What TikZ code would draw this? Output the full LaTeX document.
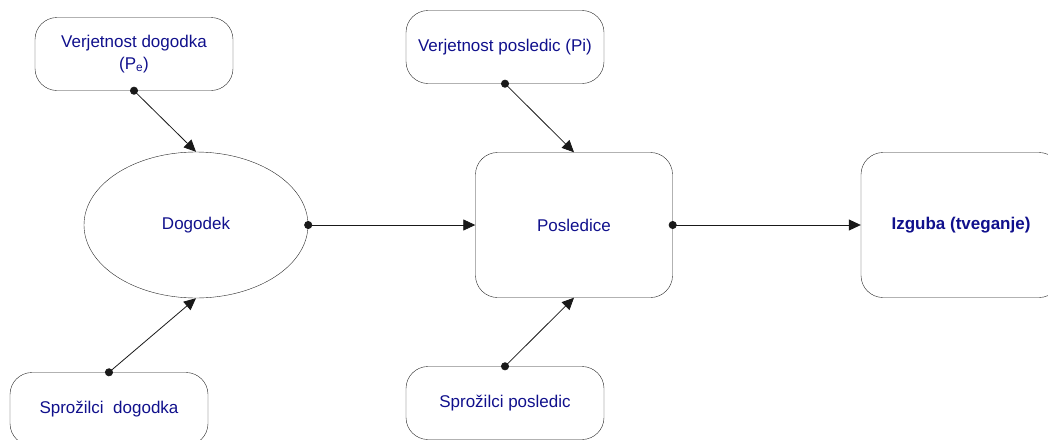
\documentclass[tikz,border=0pt]{standalone}
\usepackage{fontspec}
\setmainfont{Liberation Sans}
\usetikzlibrary{shapes.geometric,arrows.meta}
\definecolor{label blue}{RGB}{16,16,140}
\colorlet{box edge}{black!85}
\tikzset{factor/.style={draw=box edge, rounded corners=22pt, minimum width=198pt,
        minimum height=73pt, inner sep=0pt, align=center, text=label blue},
    stage/.style={factor, minimum width=197pt, minimum height=145pt},
    link/.style={draw=black!90, line width=0.8pt, shorten <=-4pt,
        {Circle[length=8pt]}-{Triangle[length=12pt,width=11pt]}}}

\begin{document}
\begin{tikzpicture}[x=1pt, y=-1pt, font=\fontsize{17}{22}\selectfont]
     \useasboundingbox (0,0) rectangle (1048,439);
     \node[factor] (pe) at (134,54) {Verjetnost dogodka\\(P\textsubscript{e})};
     \node[draw=box edge, ellipse, minimum width=224pt, minimum height=146pt,
           text=label blue] (event) at (196,225) {Dogodek};
     \node[factor] (trig1) at (109,409) {Sprožilci\ \ dogodka};
     \node[factor] (pi) at (505,47) {Verjetnost posledic (Pi)};
     \node[stage] (cons) at (574,225) {Posledice};
     \node[factor] (trig2) at (505,403) {Sprožilci posledic};
     \node[stage, minimum width=200pt] (loss) at (961,225) {\textbf{Izguba (tveganje)}};
     \draw[link] (pe.south) -- (event.north);
     \draw[link] (trig1.north) -- (event.south);
     \draw[link] (event.east) -- (cons.west);
     \draw[link] (pi.south) -- (cons.north);
     \draw[link] (trig2.north) -- (cons.south);
     \draw[link] (cons.east) -- (loss.west);
\end{tikzpicture}
\end{document}
